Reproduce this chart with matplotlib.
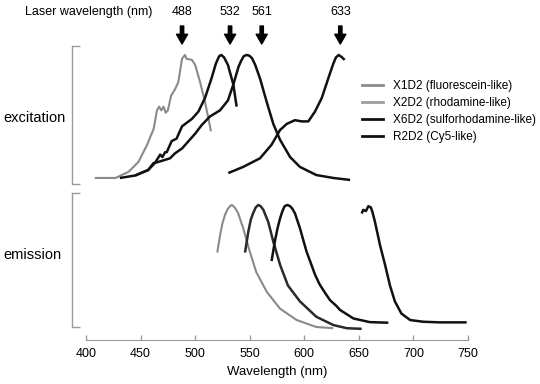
import matplotlib
matplotlib.use("Agg")
import matplotlib.pyplot as plt
import matplotlib.transforms as mtransforms
from matplotlib.lines import Line2D

plt.rcParams["font.family"] = ["Liberation Sans", "DejaVu Sans"]

# Laser lines (nm)
laser_lines = [488, 532, 561, 633]

# Excitation spectra (wavelength nm, normalised intensity)
x1d2_ex_nm = [408, 427, 439, 448, 456, 462, 465, 467, 469, 471, 473, 475, 478, 481.5,
              484.6, 488, 490.7, 492, 497, 500, 504.5, 509, 512, 514.5]
x1d2_ex = [0.0, 0.0, 0.05, 0.13, 0.27, 0.40, 0.55, 0.58, 0.55, 0.58, 0.53, 0.55, 0.67, 0.72,
           0.78, 0.97, 1.0, 0.97, 0.96, 0.92, 0.78, 0.62, 0.49, 0.38]

x2d2_ex_nm = [431, 445, 457, 463, 468, 470, 472.5, 474, 478.5, 483, 488, 491, 497, 503, 509,
              515, 519, 522, 524, 526.5, 530, 535, 538]
x2d2_ex = [0.0, 0.02, 0.065, 0.12, 0.19, 0.17, 0.21, 0.21, 0.30, 0.32, 0.42, 0.44, 0.48, 0.54,
           0.65, 0.81, 0.93, 0.99, 1.0, 0.98, 0.92, 0.76, 0.58]

x6d2_ex_nm = [445, 457, 461.7, 466, 472, 477, 481.5, 488, 494, 500, 506, 513.6, 522.8, 530,
              535, 539.6, 542, 544.5, 547, 549.5, 552, 555, 559.4, 565.5, 571.6, 577.8, 587,
              596, 611, 626.6, 642]
x6d2_ex = [0.02, 0.065, 0.12, 0.13, 0.146, 0.16, 0.20, 0.24, 0.30, 0.36, 0.43, 0.50, 0.55, 0.63,
           0.76, 0.90, 0.95, 0.99, 1.0, 0.995, 0.975, 0.92, 0.81, 0.62, 0.44, 0.31, 0.17,
           0.09, 0.024, 0.0, -0.016]

r2d2_ex_nm = [530.4, 544, 559.4, 570, 577.8, 584, 591.5, 597.6, 603.7, 609.8, 616, 622, 626.6,
              629, 631.5, 634, 637]
r2d2_ex = [0.04, 0.09, 0.16, 0.27, 0.39, 0.44, 0.47, 0.46, 0.46, 0.54, 0.65, 0.81, 0.93,
           0.98, 1.0, 0.985, 0.96]

# Emission spectra
x1d2_em_nm = [520.3, 522.8, 525, 527.4, 530, 532, 533.5, 535, 537, 539.5, 544, 550, 556, 565.5,
              577.8, 593, 611, 626.6]
x1d2_em = [0.61, 0.75, 0.85, 0.92, 0.97, 0.99, 1.0, 0.99, 0.97, 0.93, 0.81, 0.62, 0.45, 0.29,
           0.15, 0.057, 0.0, -0.01]

x2d2_em_nm = [545.7, 548.7, 551, 553, 555.5, 557.9, 560, 562.5, 567, 571.6, 577.8, 585, 596, 611,
              626.6, 639, 652.6]
x2d2_em = [0.61, 0.78, 0.88, 0.93, 0.98, 1.0, 0.99, 0.96, 0.86, 0.70, 0.51, 0.34, 0.21, 0.084,
           0.016, -0.01, -0.015]

x6d2_em_nm = [570, 573, 575.5, 577.8, 580, 582, 584.5, 587, 589, 591.5, 596, 602, 609.8, 614,
              619, 623.6, 629.7, 632.7, 645, 660, 677]
x6d2_em = [0.54, 0.70, 0.81, 0.89, 0.95, 0.99, 1.0, 0.99, 0.97, 0.93, 0.81, 0.62, 0.43, 0.35,
           0.28, 0.22, 0.17, 0.14, 0.07, 0.04, 0.035]

r2d2_em_nm = [652.6, 654, 656.5, 658.7, 661, 662.5, 664.8, 669.4, 674, 678.5, 683, 689, 697, 709,
              724, 748.8]
r2d2_em = [0.93, 0.96, 0.95, 0.99, 0.98, 0.94, 0.86, 0.67, 0.51, 0.34, 0.21, 0.11, 0.057, 0.043,
           0.038, 0.038]

# Legend
dye_labels = ["X1D2 (fluorescein-like)", "X2D2 (rhodamine-like)",
              "X6D2 (sulforhodamine-like)", "R2D2 (Cy5-like)"]
legend_colors = ["#8a8a8a", "#9c9c9c", "#111111", "#111111"]

wl_ticks = [400, 450, 500, 550, 600, 650, 700, 750]

GRAY = "#8a8a8a"
BLACK = "#111111"
AXIS_GRAY = "#9a9a9a"


def style_panel(ax, ylim):
    ax.set_xlim(400, 750)
    ax.set_ylim(*ylim)
    ax.patch.set_visible(False)
    for side in ("top", "right", "bottom"):
        ax.spines[side].set_visible(False)
    ax.spines["left"].set_position(("outward", 10))
    ax.spines["left"].set_color(AXIS_GRAY)
    ax.spines["left"].set_linewidth(1.0)
    ax.set_yticks(list(ylim))
    ax.tick_params(axis="y", direction="in", length=6, width=1.0,
                   color=AXIS_GRAY, labelleft=False)
    ax.set_xticks([])


def main() -> None:
    fig = plt.figure(figsize=(5.4, 3.84), dpi=100)
    ax_ex = fig.add_axes([86 / 540, 1 - 184 / 384, 382 / 540, 138 / 384])
    ax_em = fig.add_axes([86 / 540, 1 - 327 / 384, 382 / 540, 134 / 384])
    style_panel(ax_ex, (-0.049, 1.073))
    style_panel(ax_em, (0.0, 1.098))

    # Excitation curves
    kw = dict(solid_joinstyle="round", solid_capstyle="butt", clip_on=False)
    ax_ex.plot(x1d2_ex_nm, x1d2_ex, color=GRAY, lw=1.5, **kw)
    ax_ex.plot(x2d2_ex_nm, x2d2_ex, color=BLACK, lw=1.8, **kw)
    ax_ex.plot(x6d2_ex_nm, x6d2_ex, color=BLACK, lw=1.8, **kw)
    ax_ex.plot(r2d2_ex_nm, r2d2_ex, color=BLACK, lw=1.8, **kw)

    # Emission curves
    ax_em.plot(x1d2_em_nm, x1d2_em, color=GRAY, lw=1.5, **kw)
    ax_em.plot(x2d2_em_nm, x2d2_em, color="#2a2a2a", lw=1.8, **kw)
    ax_em.plot(x6d2_em_nm, x6d2_em, color=BLACK, lw=1.8, **kw)
    ax_em.plot(r2d2_em_nm, r2d2_em, color=BLACK, lw=1.8, **kw)

    # Wavelength axis under the emission panel
    ax_em.spines["bottom"].set_visible(True)
    ax_em.spines["bottom"].set_position(("outward", 9.4))
    ax_em.spines["bottom"].set_color(AXIS_GRAY)
    ax_em.set_xticks(wl_ticks)
    ax_em.tick_params(axis="x", direction="in", length=3.6, width=1.0,
                      color=AXIS_GRAY, labelsize=9, pad=6)
    ax_em.set_xlabel("Wavelength (nm)", fontsize=9.5, labelpad=4)

    # Legend
    handles = [Line2D([], [], color=c, lw=2.0) for c in legend_colors]
    ax_ex.legend(handles, dye_labels, loc="upper left",
                 bbox_to_anchor=(362 / 540, 1 - 80 / 384), bbox_transform=fig.transFigure,
                 frameon=False, fontsize=8.5, handlelength=1.8, handletextpad=0.85,
                 labelspacing=0.42, borderpad=0, borderaxespad=0)

    # Laser arrows
    trans = mtransforms.blended_transform_factory(ax_ex.transData, fig.transFigure)
    for nm in laser_lines:
        ax_ex.annotate("", xy=(nm, 1 - 44 / 384), xytext=(nm, 1 - 26 / 384),
                       xycoords=trans, textcoords=trans,
                       arrowprops=dict(facecolor="black", edgecolor="black",
                                       width=2.4, headwidth=8, headlength=7, shrink=0))
        ax_ex.text(nm, 1 - 12 / 384, str(nm), transform=trans,
                   ha="center", va="center", fontsize=9)

    fig.text(25 / 540, 1 - 12 / 384, "Laser wavelength (nm)", ha="left", va="center", fontsize=9)
    fig.text(3 / 540, 1 - 118 / 384, "excitation", ha="left", va="center", fontsize=10.5)
    fig.text(3 / 540, 1 - 255 / 384, "emission", ha="left", va="center", fontsize=10.5)

    fig.savefig("out.png", dpi=100)


if __name__ == "__main__":
    main()
